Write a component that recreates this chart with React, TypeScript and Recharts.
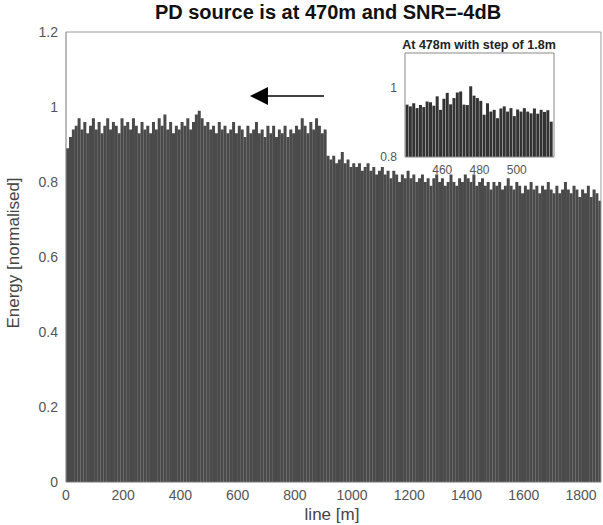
import React from 'react';
import { BarChart, Bar, XAxis, YAxis, ReferenceLine } from 'recharts';

// main trace: one value per 10 m cell along the line (0..1870 m)
const energy: number[] = [
  0.89, 0.92, 0.94, 0.95, 0.97, 0.94, 0.96, 0.93, 0.95, 0.97, 0.94,
  0.96, 0.93, 0.95, 0.97, 0.94, 0.96, 0.95, 0.93, 0.97, 0.95,
  0.96, 0.94, 0.97, 0.95, 0.93, 0.96, 0.94, 0.95, 0.93, 0.96,
  0.94, 0.97, 0.95, 0.98, 0.94, 0.96, 0.93, 0.95, 0.94, 0.96,
  0.95, 0.97, 0.94, 0.96, 0.98, 0.99, 0.97, 0.95, 0.96, 0.94,
  0.95, 0.93, 0.96, 0.94, 0.95, 0.93, 0.94, 0.96, 0.93, 0.95,
  0.94, 0.92, 0.95, 0.93, 0.94, 0.96, 0.93, 0.94, 0.92, 0.95,
  0.93, 0.95, 0.92, 0.94, 0.93, 0.95, 0.92, 0.94, 0.93, 0.95,
  0.94, 0.97, 0.95, 0.93, 0.96, 0.94, 0.97, 0.95, 0.93, 0.94,
  0.87, 0.86, 0.87, 0.85, 0.86, 0.88, 0.85, 0.86, 0.84, 0.85,
  0.84, 0.85, 0.83, 0.84, 0.85, 0.83, 0.84, 0.82, 0.83, 0.84,
  0.82, 0.83, 0.81, 0.83, 0.82, 0.8, 0.82, 0.81, 0.83, 0.81,
  0.82, 0.8, 0.81, 0.82, 0.8, 0.81, 0.79, 0.81, 0.82, 0.8,
  0.81, 0.79, 0.8, 0.82, 0.8, 0.79, 0.81, 0.8, 0.82, 0.81,
  0.8, 0.82, 0.79, 0.8, 0.81, 0.79, 0.8, 0.78, 0.8, 0.79,
  0.8, 0.78, 0.79, 0.81, 0.79, 0.78, 0.8, 0.79, 0.77, 0.79,
  0.78, 0.8, 0.78, 0.79, 0.77, 0.79, 0.78, 0.8, 0.78, 0.77,
  0.79, 0.77, 0.78, 0.8, 0.78, 0.77, 0.79, 0.78, 0.76, 0.78,
  0.77, 0.79, 0.76, 0.78, 0.77, 0.75,
];
const cellSize = 10;
const xTicks = [0, 200, 400, 600, 800, 1000, 1200, 1400, 1600, 1800];
const yTicks = [0, 0.2, 0.4, 0.6, 0.8, 1, 1.2];

// zoomed window round 478 m, 1.8 m step
const zoomEnergy: number[] = [
  0.951, 0.946, 0.955, 0.941, 0.95, 0.944, 0.96, 0.958, 0.948, 0.975,
  0.936, 0.968, 0.985, 0.952, 0.97, 0.986, 0.989, 0.951, 0.95, 1.004,
  0.977, 0.97, 0.962, 0.922, 0.955, 0.931, 0.936, 0.912, 0.94, 0.946,
  0.931, 0.941, 0.918, 0.937, 0.931, 0.941, 0.931, 0.926, 0.94, 0.925,
  0.936, 0.93, 0.935, 0.902,
];
const zoomStart = 441;
const zoomStep = 1.8;
const zoomXTicks = [460, 480, 500];
const zoomYTicks = [0.8, 1];

const mainData = energy.map((e, i) => ({ x: i * cellSize + cellSize / 2, e }));
const zoomData = zoomEnergy.map((e, i) => ({ x: +(zoomStart + i * zoomStep).toFixed(1), e }));

const font = 'Liberation Sans, Arial, sans-serif';
const tickStyle = { fontSize: 14, fill: '#555', fontFamily: font };
const insetTick = { fontSize: 12, fill: '#555', fontFamily: font };

export default function App() {
  return (
    <div style={{ position: 'absolute', left: 0, top: 0, width: 603, height: 525, background: '#fff', fontFamily: font }}>
      <BarChart width={603} height={525} data={mainData} margin={{ top: 32, right: 2, bottom: 23, left: 24 }} barCategoryGap="5%">
        <XAxis dataKey="x" type="number" domain={[0, 1870]} ticks={xTicks} height={20} tick={tickStyle}
          tickLine={false} axisLine={{ stroke: '#777' }} allowDataOverflow />
        <YAxis type="number" domain={[0, 1.2]} ticks={yTicks} width={42} tick={tickStyle}
          tickLine={false} axisLine={{ stroke: '#777' }} tickFormatter={(v: number) => String(v)} />
        <ReferenceLine y={1.2} stroke="#999" />
        <ReferenceLine x={1870} stroke="#999" />
        <Bar dataKey="e" fill="#4a4a4a" isAnimationActive={false} />
      </BarChart>

      <div style={{ position: 'absolute', left: 375, top: 40, width: 185, height: 140 }}>
        <BarChart width={185} height={140} data={zoomData} margin={{ top: 13, right: 6, bottom: 6, left: 0 }} barCategoryGap="10%">
          <XAxis dataKey="x" type="number" domain={[440, 520]} ticks={zoomXTicks} height={17}
            tick={insetTick} tickLine={false} axisLine={{ stroke: '#888' }} allowDataOverflow />
          <YAxis type="number" domain={[0.8, 1.1]} ticks={zoomYTicks} width={30}
            tick={insetTick} tickLine={false} axisLine={{ stroke: '#888' }} allowDataOverflow />
          <ReferenceLine y={1.1} stroke="#888" />
          <ReferenceLine x={520} stroke="#888" />
          <Bar dataKey="e" fill="#333" isAnimationActive={false} />
        </BarChart>
      </div>

      <div style={{ position: 'absolute', left: 379, top: 38, width: 200, textAlign: 'center', fontSize: 12.5, fontWeight: 'bold', color: '#222' }}>
        At 478m with step of 1.8m
      </div>
      <div style={{ position: 'absolute', left: 0, top: 1, width: 656, textAlign: 'center', fontSize: 20, fontWeight: 'bold', color: '#111' }}>
        PD source is at  470m and SNR=-4dB
      </div>
      <div style={{ position: 'absolute', left: 0, top: 505, width: 664, textAlign: 'center', fontSize: 17, color: '#444' }}>
        line [m]
      </div>
      <div style={{ position: 'absolute', left: 14, top: 253, transform: 'translate(-50%, -50%) rotate(-90deg)', whiteSpace: 'nowrap', fontSize: 17, color: '#444' }}>
        Energy [normalised]
      </div>
      <svg width={603} height={525} style={{ position: 'absolute', left: 0, top: 0, pointerEvents: 'none' }}>
        <line x1={266} y1={96} x2={324} y2={96} stroke="#000" strokeWidth={1.5} />
        <polygon points="250,96 268,87 268,105" fill="#000" />
      </svg>
    </div>
  );
}
